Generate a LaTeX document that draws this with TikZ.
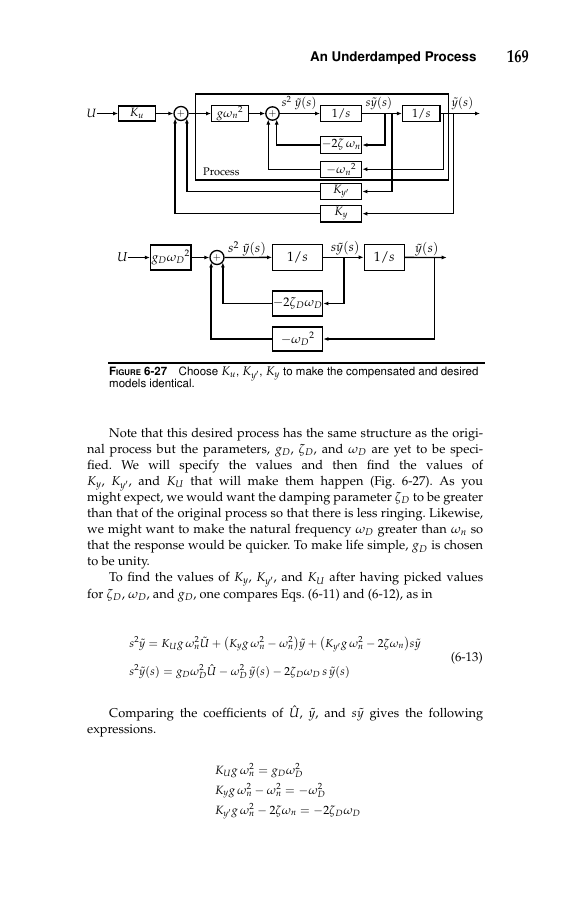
\documentclass[tikz,border=0pt]{standalone}
\usepackage[T1]{fontenc}
\usepackage{mathpazo}
\usepackage[scaled=0.92]{helvet}
\usepackage{graphicx}
\usetikzlibrary{positioning,arrows.meta,calc}

\newcommand{\tw}{396pt}
\newcommand{\jl}[1]{\makebox[\tw][s]{#1}}
\newcommand{\ind}{\hspace*{22pt}}

\tikzset{
  blk/.style={draw, line width=1.3pt, inner sep=0pt, font=\fontsize{12}{14}\selectfont},
  bigblk/.style={blk, font=\fontsize{13.5}{15}\selectfont},
  sumpt/.style={draw, circle, line width=1.3pt, inner sep=0pt, minimum size=14pt,
    font=\fontsize{10}{11}\selectfont},
  sig/.style={line width=1.3pt, -{Latex[length=5pt,width=4pt]}},
  wire/.style={line width=1.3pt},
  lbl/.style={inner sep=0pt, font=\fontsize{12}{14}\selectfont},
  bodyln/.style={inner sep=0pt, anchor=base west, font=\fontsize{12.8}{16}\selectfont\frenchspacing},
  capln/.style={inner sep=0pt, anchor=base west, font=\fontfamily{phv}\fontsize{12.5}{13}\selectfont},
  eqln/.style={bodyln, font=\fontsize{11.6}{14}\selectfont},
}

\begin{document}
\begin{tikzpicture}[x=1pt, y=-1pt]
  \path[use as bounding box, fill=white] (0,0) rectangle (571,900);

  % Running head
  \node[inner sep=0pt, anchor=base west, font=\fontfamily{phv}\bfseries\fontsize{14.5}{16}\selectfont]
    (head) at (310,61.5) {An Underdamped Process};
  \node[inner sep=0pt, anchor=base west] (page) at (507,62)
    {\scalebox{0.8}[1]{\fontsize{18}{20}\selectfont\bfseries 169}};

  % Top: process with compensation
  \node[draw, wire, inner sep=0pt, minimum width=252.8pt, minimum height=86pt]
    (proc) at (321.9,137) {};
  \node[lbl, anchor=west, font=\fontsize{11}{12}\selectfont] (proclbl) at (203,172) {Process};
  \node[blk, minimum width=36.5pt, minimum height=15pt] (Ku) at (137,113.5) {$K_u$};
  \node[lbl, left=21.5pt of Ku] (U1) {$U$};
  \node[sumpt] (s1) at (181,113.5) {$+$};
  \node[blk, minimum width=36.6pt, minimum height=16pt] (gw) at (230,113.5) {$g\omega_n{}^2$};
  \node[sumpt, minimum size=13.4pt] (s2) at (272.5,113.5) {$+$};
  \node[blk, minimum width=41pt, minimum height=15.5pt] (i1) at (341.2,113.5) {$1/s$};
  \node[blk, minimum width=37.5pt, minimum height=15.5pt] (i2) at (421.3,113.5) {$1/s$};
  \node[blk, minimum width=41pt, minimum height=16.5pt] (fz) at (341.2,145) {$-2\zeta\,\omega_n$};
  \node[blk, minimum width=41pt, minimum height=16pt] (fw) at (341.2,169.2) {$-\omega_n{}^2$};
  \node[blk, minimum width=41pt, minimum height=16.5pt] (fyp) at (341.2,191.5) {$K_{y'}$};
  \node[blk, minimum width=41pt, minimum height=16.5pt] (fy) at (341.2,213.7) {$K_y$};

  \node[lbl, anchor=west] (l1) at (281.5,103) {$s^2\;\tilde y(s)$};
  \node[lbl, anchor=west] (l2) at (365.5,103) {$s\tilde y(s)$};
  \node[lbl, anchor=west] (l3) at (451.5,103) {$\tilde y(s)$};

  \coordinate (ta) at (385,113.5);
  \coordinate (tb) at (392,113.5);
  \coordinate (tc) at (443.3,113.5);
  \coordinate (td) at (453.3,113.5);
  \coordinate (out1) at (480,113.5);

  \draw[sig] (U1) -- (Ku);
  \draw[sig] (Ku) -- (s1);
  \draw[sig] (s1) -- (gw);
  \draw[sig] (gw) -- (s2);
  \draw[sig] (s2) -- (i1);
  \draw[sig] (i1) -- (i2);
  \draw[sig] (i2) -- (out1);
  \draw[sig] (ta) |- (fz);
  \draw[sig] (tb) |- (fyp);
  \draw[sig] (tc) |- (fw);
  \draw[sig] (td) |- (fy);
  \draw[sig] (fz) -| (s2.-55);
  \draw[sig] (fw) -| (s2.-125);
  \draw[sig] (fyp) -| (s1.-40);
  \draw[sig] (fy) -| (s1.-140);

  % Bottom: desired model
  \node[bigblk, minimum width=40.5pt, minimum height=25pt, font=\fontsize{12.5}{14}\selectfont]
    (gD) at (170.8,257.5) {$g_D\omega_D{}^2$};
  \node[lbl, left=22pt of gD, font=\fontsize{13}{15}\selectfont] (U2) {$U$};
  \node[sumpt] (s3) at (217,257.5) {$+$};
  \node[bigblk, minimum width=49.6pt, minimum height=25.7pt] (i3) at (297.5,257.3) {$1/s$};
  \node[bigblk, minimum width=40pt, minimum height=26pt] (i4) at (384.3,257.3) {$1/s$};
  \node[bigblk, minimum width=50pt, minimum height=25pt, font=\fontsize{12.5}{14}\selectfont]
    (fzD) at (297.7,303.5) {$-2\zeta_D\omega_D$};
  \node[bigblk, minimum width=50pt, minimum height=24pt, font=\fontsize{12.5}{14}\selectfont]
    (fwD) at (297.7,339) {$-\omega_D{}^2$};

  \node[lbl, anchor=west, font=\fontsize{13}{15}\selectfont] (l4) at (228,249) {$s^2\;\tilde y(s)$};
  \node[lbl, anchor=west, font=\fontsize{13}{15}\selectfont] (l5) at (330.7,248.3) {$s\tilde y(s)$};
  \node[lbl, anchor=west, font=\fontsize{13}{15}\selectfont] (l6) at (415,249) {$\tilde y(s)$};

  \coordinate (tC) at (344,257.5);
  \coordinate (tD) at (434.3,257.5);
  \coordinate (out2) at (446.7,257.5);

  \draw[sig] (U2) -- (gD);
  \draw[sig] (gD) -- (s3);
  \draw[sig] (s3) -- (i3);
  \draw[sig] (i3) -- (i4);
  \draw[sig] (i4) -- (out2);
  \draw[sig] (tC) |- (fzD);
  \draw[sig] (tD) |- (fwD);
  \draw[sig] (fzD) -| (s3.-40);
  \draw[sig] (fwD) -| (s3.-140);

  % Caption
  \draw[line width=1.8pt] (108,362.7) -- (485,362.7);
  \node[capln] (cap1) at (109,375.5)
    {\textbf{F{\fontsize{8.5}{9}\selectfont IGURE} 6-27}\quad Choose $K_u$, $K_{y'}$, $K_y$ to make the compensated and desired};
  \node[capln] (cap2) at (109,387.5) {models identical.};

  % Body text
  \foreach \txt [count=\i from 0] in {
    {\jl{\ind Note that this desired process has the same structure as the origi-}},
    {\jl{nal process but the parameters, $g_D$, $\zeta_D$, and $\omega_D$ are yet to be speci-}},
    {\jl{fied. We will specify the values and then find the values of}},
    {\jl{$K_y$, $K_{y'}$, and $K_U$ that will make them happen (Fig. 6-27). As you}},
    {\jl{might expect, we would want the damping parameter $\zeta_D$ to be greater}},
    {\jl{than that of the original process so that there is less ringing. Likewise,}},
    {\jl{we might want to make the natural frequency $\omega_D$ greater than $\omega_n$ so}},
    {\jl{that the response would be quicker. To make life simple, $g_D$ is chosen}},
    {to be unity.},
    {\jl{\ind To find the values of $K_y$, $K_{y'}$, and $K_U$ after having picked values}},
    {for $\zeta_D$, $\omega_D$, and $g_D$, one compares Eqs. (6-11) and (6-12), as in}}
    \node[bodyln] (pa\i) at (87,{437+16.1*\i}) {\txt};

  % Eq. (6-13)
  \node[eqln] (eqa) at (129.3,647)
    {$s^2\tilde y = K_U g\,\omega_n^2\tilde U + \bigl(K_y g\,\omega_n^2 - \omega_n^2\bigr)\tilde y
      + \bigl(K_{y'} g\,\omega_n^2 - 2\zeta\omega_n\bigr)s\tilde y$};
  \node[eqln] (eqb) at (129.3,675)
    {$s^2\tilde y(s) = g_D\omega_D^2\hat U - \omega_D^2\,\tilde y(s) - 2\zeta_D\omega_D\,s\,\tilde y(s)$};
  \node[bodyln, anchor=base east] (eqno) at (483,661) {(6-13)};

  \node[bodyln] (pc0) at (87,717)
    {\jl{\ind Comparing the coefficients of $\hat U$, $\tilde y$, and $s\tilde y$ gives the following}};
  \node[bodyln] (pc1) at (87,733) {expressions.};

  \node[eqln, font=\fontsize{12}{14}\selectfont] (ca) at (215,774) {$K_U g\,\omega_n^2 = g_D\omega_D^2$};
  \node[eqln, font=\fontsize{12}{14}\selectfont] (cb) at (215,794) {$K_y g\,\omega_n^2 - \omega_n^2 = -\omega_D^2$};
  \node[eqln, font=\fontsize{12}{14}\selectfont] (cc) at (215,814)
    {$K_{y'} g\,\omega_n^2 - 2\zeta\omega_n = -2\zeta_D\omega_D$};
\end{tikzpicture}
\end{document}
